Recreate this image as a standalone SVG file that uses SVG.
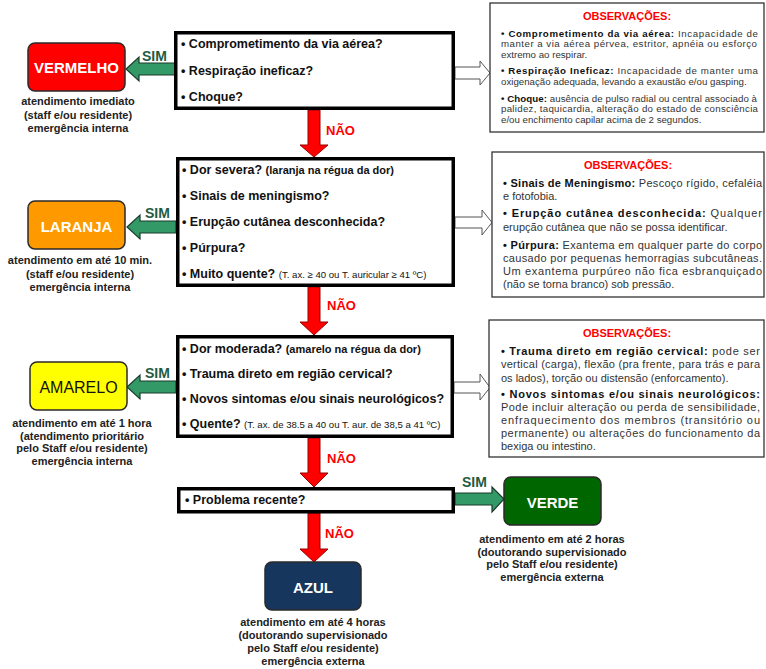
<svg xmlns="http://www.w3.org/2000/svg" width="766" height="669" viewBox="0 0 766 669">
<style>
text{font-family:"Liberation Sans",Arial,sans-serif}
.q{font-size:12.5px;font-weight:bold;fill:#111}
.qs{font-size:11px;font-weight:bold}
.qt{font-size:9.6px;font-weight:normal}
.qbox{fill:#fff;stroke:#000;stroke-width:3.5}
.obs{fill:#fff;stroke:#333;stroke-width:1.3}
.ot{font-size:11px;font-weight:bold;fill:#ff0000;text-anchor:middle}
.o1{font-size:9.7px;fill:#333}
.o2{font-size:11px;fill:#333}
.b{font-weight:bold;fill:#111}
.node{stroke:#2a2a2a;stroke-width:1.5}
.nt{font-size:15px;font-weight:bold;fill:#fff;text-anchor:middle}
.cap{font-size:11px;font-weight:bold;fill:#222;text-anchor:middle}
.sim{font-size:14px;font-weight:bold;fill:#1f5c3f}
.nao{font-size:13px;font-weight:bold;fill:#ff0000}
.ga{fill:#339966;stroke:#1b3b2b;stroke-width:1.2}
.ra{fill:#ff0000;stroke:#990000;stroke-width:1}
.ha{fill:#fff;stroke:#555;stroke-width:1}
</style>

<g id="connectors">
  <path class="ga" d="M175,63 L139,63 L139,57 L126,69 L139,81 L139,75 L175,75 Z"/>
  <path class="ga" d="M176,221 L140,221 L140,215 L127,227 L140,239 L140,233 L176,233 Z"/>
  <path class="ga" d="M176,381 L140,381 L140,375 L127,387 L140,399 L140,393 L176,393 Z"/>
  <path class="ga" d="M455,493 L492,493 L492,487 L504,499 L492,512 L492,505 L455,505 Z"/>
  <path class="ra" d="M308,110 L320,110 L320,145 L328,145 L314,157 L300,145 L308,145 Z"/>
  <path class="ra" d="M308,287 L320,287 L320,322 L328,322 L314,335 L300,322 L308,322 Z"/>
  <path class="ra" d="M308,438 L320,438 L320,473 L328,473 L314,487 L300,473 L308,473 Z"/>
  <path class="ra" d="M308,513 L320,513 L320,549 L328,549 L314,562 L300,549 L308,549 Z"/>
  <path class="ha" d="M455,67 L480,67 L480,61 L490,73 L480,85 L480,79 L455,79 Z"/>
  <path class="ha" d="M455,217 L482,217 L482,210 L492,222.5 L482,235 L482,228 L455,228 Z"/>
  <path class="ha" d="M454,382 L480,382 L480,374 L490,387.5 L480,400 L480,393 L454,393 Z"/>
  <text class="sim" x="142" y="61">SIM</text>
  <text class="sim" x="145" y="218">SIM</text>
  <text class="sim" x="145" y="378">SIM</text>
  <text class="sim" x="462" y="487">SIM</text>
  <text class="nao" x="326" y="135">NÃO</text>
  <text class="nao" x="327" y="310">NÃO</text>
  <text class="nao" x="327" y="463">NÃO</text>
  <text class="nao" x="325" y="538">NÃO</text>
</g>

<g id="q1">
  <rect class="qbox" x="175.75" y="32.75" width="277.5" height="75.5"/>
  <text class="q" x="181" y="48">• Comprometimento da via aérea?</text>
  <text class="q" x="181" y="75">• Respiração ineficaz?</text>
  <text class="q" x="181" y="101">• Choque?</text>
</g>

<g id="q2">
  <rect class="qbox" x="177.75" y="158.75" width="275.5" height="126.5"/>
  <text class="q" x="182" y="174">• Dor severa? <tspan class="qs">(laranja na régua da dor)</tspan></text>
  <text class="q" x="182" y="200">• Sinais de meningismo?</text>
  <text class="q" x="182" y="226">• Erupção cutânea desconhecida?</text>
  <text class="q" x="182" y="252">• Púrpura?</text>
  <text class="q" x="182" y="278">• Muito quente? <tspan class="qt">(T. ax. ≥ 40 ou T. auricular ≥ 41 ºC)</tspan></text>
</g>

<g id="q3">
  <rect class="qbox" x="177.75" y="336.75" width="274.5" height="99.5"/>
  <text class="q" x="182" y="353">• Dor moderada? <tspan class="qs">(amarelo na régua da dor)</tspan></text>
  <text class="q" x="182" y="378">• Trauma direto em região cervical?</text>
  <text class="q" x="182" y="403">• Novos sintomas e/ou sinais neurológicos?</text>
  <text class="q" x="182" y="428">• Quente? <tspan class="qt">(T. ax. de 38.5 a 40 ou T. aur. de 38,5 a 41 ºC)</tspan></text>
</g>

<g id="q4">
  <rect class="qbox" x="178.75" y="488.75" width="274.5" height="23"/>
  <text class="q" x="185" y="504">• Problema recente?</text>
</g>

<g id="obs1">
  <rect class="obs" x="490" y="3" width="274" height="129"/>
  <text class="ot" x="627" y="20">OBSERVAÇÕES:</text>
  <text class="o1" x="501" y="37" textLength="257" lengthAdjust="spacing"><tspan class="b">• Comprometimento da via aérea:</tspan> Incapacidade de</text>
  <text class="o1" x="501" y="47" textLength="256" lengthAdjust="spacing">manter a via aérea pérvea, estritor, apnéia ou esforço</text>
  <text class="o1" x="501" y="57.5">extremo ao respirar.</text>
  <text class="o1" x="501" y="74" textLength="257" lengthAdjust="spacing"><tspan class="b">• Respiração Ineficaz:</tspan> Incapacidade de manter uma</text>
  <text class="o1" x="501" y="84.5">oxigenação adequada, levando a exaustão e/ou gasping.</text>
  <text class="o1" x="501" y="102" textLength="256" lengthAdjust="spacing"><tspan class="b">• Choque:</tspan> ausência de pulso radial ou central associado à</text>
  <text class="o1" x="501" y="112" textLength="257" lengthAdjust="spacing">palidez, taquicardia, alteração do estado de consciência</text>
  <text class="o1" x="501" y="122.5">e/ou enchimento capilar acima de 2 segundos.</text>
</g>

<g id="obs2">
  <rect class="obs" x="492" y="152" width="272" height="145"/>
  <text class="ot" x="628" y="169">OBSERVAÇÕES:</text>
  <text class="o2" x="503" y="187" textLength="259" lengthAdjust="spacing"><tspan class="b">• Sinais de Meningismo:</tspan> Pescoço rígido, cefaléia</text>
  <text class="o2" x="503" y="200">e fotofobia.</text>
  <text class="o2" x="503" y="217" textLength="259" lengthAdjust="spacing"><tspan class="b">• Erupção cutânea desconhecida:</tspan> Qualquer</text>
  <text class="o2" x="503" y="230.5">erupção cutânea que não se possa identificar.</text>
  <text class="o2" x="503" y="249" textLength="259" lengthAdjust="spacing"><tspan class="b">• Púrpura:</tspan> Exantema em qualquer parte do corpo</text>
  <text class="o2" x="503" y="262" textLength="259" lengthAdjust="spacing">causado por pequenas hemorragias subcutâneas.</text>
  <text class="o2" x="503" y="275" textLength="259" lengthAdjust="spacing">Um exantema purpúreo não fica esbranquiçado</text>
  <text class="o2" x="503" y="288">(não se torna branco) sob pressão.</text>
</g>

<g id="obs3">
  <rect class="obs" x="489" y="320" width="275" height="137"/>
  <text class="ot" x="627" y="337">OBSERVAÇÕES:</text>
  <text class="o2" x="501" y="355" textLength="259" lengthAdjust="spacing"><tspan class="b">• Trauma direto em região cervical:</tspan> pode ser</text>
  <text class="o2" x="501" y="368" textLength="259" lengthAdjust="spacing">vertical (carga), flexão (pra frente, para trás e para</text>
  <text class="o2" x="501" y="381.5">os lados), torção ou distensão (enforcamento).</text>
  <text class="o2" x="501" y="398" textLength="259" lengthAdjust="spacing"><tspan class="b">• Novos sintomas e/ou sinais neurológicos:</tspan></text>
  <text class="o2" x="501" y="411" textLength="259" lengthAdjust="spacing">Pode incluir alteração ou perda de sensibilidade,</text>
  <text class="o2" x="501" y="424" textLength="259" lengthAdjust="spacing">enfraquecimento dos membros (transitório ou</text>
  <text class="o2" x="501" y="437" textLength="259" lengthAdjust="spacing">permanente) ou alterações do funcionamento da</text>
  <text class="o2" x="501" y="450">bexiga ou intestino.</text>
</g>

<g id="vermelho">
  <rect class="node" x="28" y="43" width="97" height="48" rx="7" fill="#ff0000"/>
  <text class="nt" x="76.5" y="72.5">VERMELHO</text>
  <text class="cap" x="78" y="105">atendimento imediato</text>
  <text class="cap" x="78" y="118.5">(staff e/ou residente)</text>
  <text class="cap" x="78" y="132">emergência interna</text>
</g>

<g id="laranja">
  <rect class="node" x="28" y="201" width="97" height="48" rx="7" fill="#ff9900"/>
  <text class="nt" x="76.5" y="231.5">LARANJA</text>
  <text class="cap" x="80" y="264">atendimento em até 10 min.</text>
  <text class="cap" x="80" y="277.5">(staff e/ou residente)</text>
  <text class="cap" x="80" y="291">emergência interna</text>
</g>

<g id="amarelo">
  <rect class="node" x="30" y="362" width="97" height="48" rx="7" fill="#ffff00"/>
  <text class="nt" x="78.5" y="392.5" style="fill:#111;font-weight:normal;font-size:16px">AMARELO</text>
  <text class="cap" x="82" y="427">atendimento em até 1 hora</text>
  <text class="cap" x="82" y="439.5">(atendimento prioritário</text>
  <text class="cap" x="82" y="452">pelo Staff e/ou residente)</text>
  <text class="cap" x="82" y="464.5">emergência interna</text>
</g>

<g id="verde">
  <rect class="node" x="504" y="477" width="97" height="48" rx="7" fill="#006600"/>
  <text class="nt" x="552.5" y="507.5">VERDE</text>
  <text class="cap" x="552" y="543">atendimento em até 2 horas</text>
  <text class="cap" x="552" y="555.5">(doutorando supervisionado</text>
  <text class="cap" x="552" y="568">pelo Staff e/ou residente)</text>
  <text class="cap" x="552" y="580.5">emergência externa</text>
</g>

<g id="azul">
  <rect class="node" x="265" y="562" width="96" height="48" rx="7" fill="#17365d"/>
  <text class="nt" x="313" y="592.5">AZUL</text>
  <text class="cap" x="313" y="626">atendimento em até 4 horas</text>
  <text class="cap" x="313" y="639">(doutorando supervisionado</text>
  <text class="cap" x="313" y="651.5">pelo Staff e/ou residente)</text>
  <text class="cap" x="313" y="664.5">emergência externa</text>
</g>
</svg>
